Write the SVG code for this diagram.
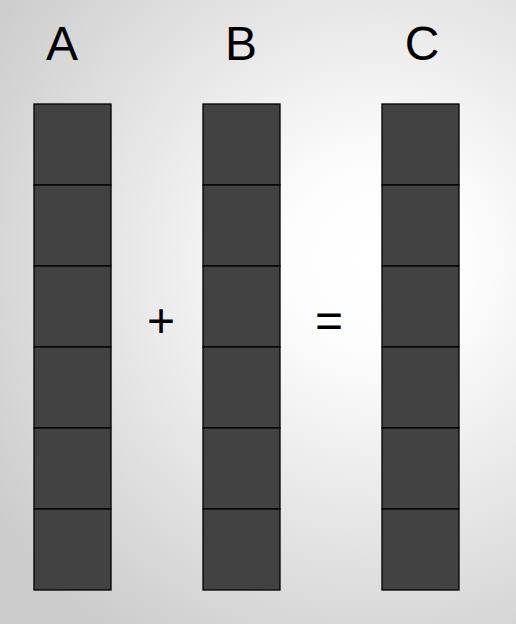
<svg xmlns="http://www.w3.org/2000/svg" width="516" height="624" viewBox="0 0 516 624">
<defs>
<radialGradient id="bg" gradientUnits="userSpaceOnUse" cx="380" cy="260" r="460">
<stop offset="0" stop-color="#ffffff"/>
<stop offset="0.2" stop-color="#fdfdfd"/>
<stop offset="1" stop-color="#cccccc"/>
</radialGradient>
<style>
.cell{fill:#424242;stroke:#000;stroke-width:1.3}
.lbl{font-family:"Liberation Sans",Arial,sans-serif;font-size:48px;fill:#000;text-anchor:middle}
</style>
</defs>
<rect width="516" height="624" fill="url(#bg)"/>
<g id="A">
<rect class="cell" x="34" y="104" width="77" height="81"/>
<rect class="cell" x="34" y="185" width="77" height="81"/>
<rect class="cell" x="34" y="266" width="77" height="81"/>
<rect class="cell" x="34" y="347" width="77" height="81"/>
<rect class="cell" x="34" y="428" width="77" height="81"/>
<rect class="cell" x="34" y="509" width="77" height="81"/>
<text class="lbl" x="62" y="60">A</text>
</g>
<g id="B">
<rect class="cell" x="203" y="104" width="77" height="81"/>
<rect class="cell" x="203" y="185" width="77" height="81"/>
<rect class="cell" x="203" y="266" width="77" height="81"/>
<rect class="cell" x="203" y="347" width="77" height="81"/>
<rect class="cell" x="203" y="428" width="77" height="81"/>
<rect class="cell" x="203" y="509" width="77" height="81"/>
<text class="lbl" x="241" y="60">B</text>
</g>
<g id="C">
<rect class="cell" x="382" y="104" width="77" height="81"/>
<rect class="cell" x="382" y="185" width="77" height="81"/>
<rect class="cell" x="382" y="266" width="77" height="81"/>
<rect class="cell" x="382" y="347" width="77" height="81"/>
<rect class="cell" x="382" y="428" width="77" height="81"/>
<rect class="cell" x="382" y="509" width="77" height="81"/>
<text class="lbl" x="422" y="60">C</text>
</g>
<g id="ops">
<text class="lbl" x="161" y="337">+</text>
<text class="lbl" x="329" y="337">=</text>
</g>
<g id="connectors"/>
</svg>
